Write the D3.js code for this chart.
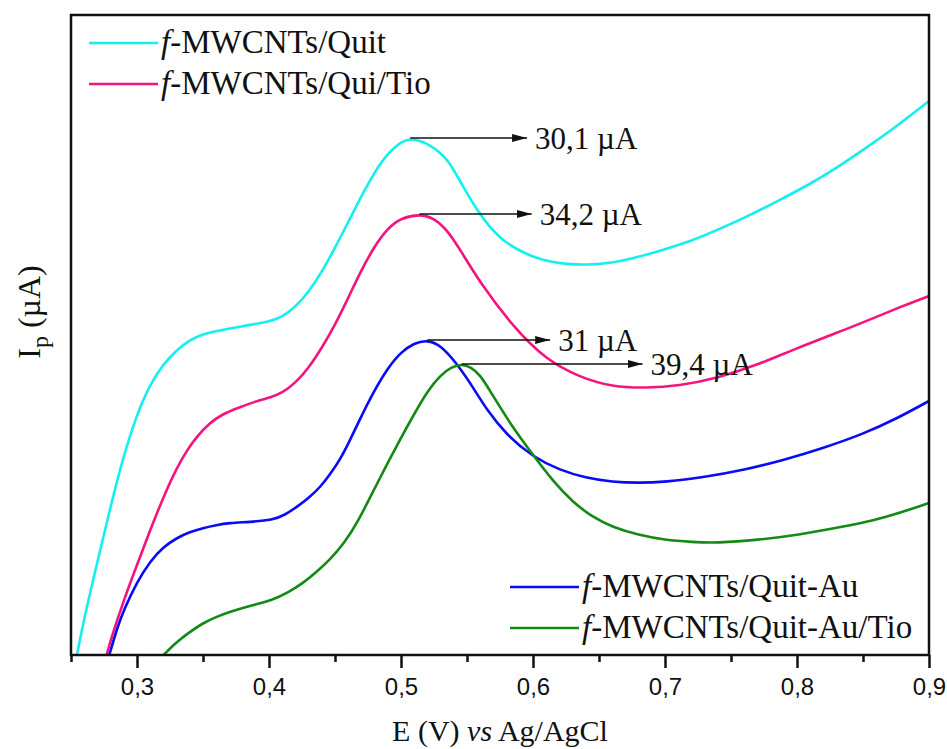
<!DOCTYPE html>
<html>
<head>
<meta charset="utf-8">
<script src="https://cdn.jsdelivr.net/npm/d3@7/dist/d3.min.js"></script>
<style>
  html, body { margin: 0; padding: 0; background: #fff; }
  svg { display: block; }
</style>
</head>
<body>
<svg id="chart" width="947" height="749"></svg>
<script>
// Differential pulse voltammograms: potential (V vs Ag/AgCl) and current (arbitrary offset, µA)
const potCyan = [0.2545,0.26,0.27,0.28,0.29,0.30,0.31,0.32,0.33,0.34,0.35,0.36,0.38,0.40,0.41,0.42,0.43,0.44,0.45,0.46,0.47,0.48,0.49,0.50,0.507,0.52,0.53,0.535,0.541,0.5485,0.5576,0.567,0.577,0.586,0.598,0.613,0.625,0.641,0.661,0.68,0.698,0.72,0.736,0.76,0.787,0.81,0.83,0.85,0.875,0.90];
const curCyan = [0,3.7,9.3,14.9,20.0,24.1,27.1,29.1,30.5,31.5,32.1,32.4,32.9,33.3,33.8,34.8,36.3,38.3,40.7,43.3,45.9,48.3,50.2,51.3,51.7,51.2,50.2,49.5,48.3,46.5,44.5,42.8,41.5,40.7,39.9,39.3,39.1,39.0,39.2,39.8,40.5,41.4,42.3,43.7,45.5,47.1,48.7,50.5,52.8,55.4];

const potPink = [0.277,0.28,0.29,0.30,0.31,0.32,0.33,0.338,0.345,0.355,0.365,0.376,0.393,0.40,0.41,0.42,0.43,0.44,0.45,0.46,0.47,0.48,0.49,0.50,0.514,0.525,0.535,0.545,0.56,0.585,0.61,0.635,0.66,0.686,0.71,0.74,0.77,0.80,0.83,0.86,0.88,0.90];
const curPink = [0,1.5,5.5,9.0,12.5,15.8,18.7,20.5,21.8,23.2,24.1,24.7,25.5,25.7,26.2,27.2,28.7,30.7,33.0,35.7,38.5,40.9,42.7,43.7,44.1,43.7,42.5,40.5,37.2,32.8,29.5,27.8,26.8,26.7,26.9,27.7,29.0,30.7,32.2,33.8,34.9,35.9];

const potBlue = [0.279,0.285,0.29,0.30,0.31,0.32,0.33,0.34,0.35,0.36,0.37,0.385,0.403,0.412,0.421,0.43,0.439,0.447,0.454,0.46,0.47,0.48,0.49,0.50,0.51,0.52,0.53,0.542,0.5545,0.565,0.58,0.60,0.62,0.64,0.66,0.68,0.70,0.73,0.76,0.79,0.82,0.85,0.875,0.90];
const curBlue = [0,2.7,4.5,7.3,9.4,10.8,11.7,12.3,12.7,13.0,13.2,13.3,13.5,14.0,14.8,15.7,16.8,18.2,19.6,21.1,23.9,26.5,28.7,30.3,31.2,31.5,31.0,29.2,26.8,24.5,22.0,19.8,18.5,17.7,17.3,17.2,17.3,17.8,18.5,19.5,20.7,22.1,23.6,25.4];

const potGreen = [0.32,0.33,0.34,0.35,0.36,0.37,0.385,0.403,0.415,0.426,0.436,0.446,0.457,0.467,0.482,0.499,0.51,0.52,0.53,0.538,0.546,0.553,0.56,0.567,0.575,0.585,0.60,0.615,0.63,0.645,0.66,0.68,0.70,0.72,0.74,0.77,0.80,0.83,0.86,0.88,0.90];
const curGreen = [0,1.3,2.3,3.2,3.8,4.3,4.9,5.5,6.3,7.2,8.3,9.5,11.2,13.2,17.2,21.5,24.1,26.4,28.0,28.8,29.1,28.8,28.0,26.5,24.8,22.7,20.0,17.4,15.3,13.8,12.8,12.0,11.5,11.3,11.2,11.5,12.0,12.7,13.5,14.3,15.2];

const seriesNames = ["MWCNTs/Quit", "MWCNTs/Qui/Tio", "MWCNTs/Quit-Au", "MWCNTs/Quit-Au/Tio"];
const seriesColors = ["#14f0f0", "#f5147d", "#0a0af5", "#138a13"];

// Peak currents reported for each electrode, with peak potentials
const peakPot = [0.507, 0.514, 0.52, 0.546];
const peakCurrent = [30.1, 34.2, 31, 39.4];
const arrowEndPot = [0.5955, 0.599, 0.613, 0.683];

const majorTicks = [0.3, 0.4, 0.5, 0.6, 0.7, 0.8, 0.9];
const minorTicks = [0.25, 0.35, 0.45, 0.55, 0.65, 0.75, 0.85];

const series = [
  {pot: potCyan, cur: curCyan},
  {pot: potPink, cur: curPink},
  {pot: potBlue, cur: curBlue},
  {pot: potGreen, cur: curGreen}
].map((s, i) => ({
  name: seriesNames[i],
  color: seriesColors[i],
  points: s.pot.map((p, j) => ({E: p, I: s.cur[j]}))
}));

const svg = d3.select("#chart");
const plotL = 71, plotR = 929, plotT = 15, plotB = 655;

const x = d3.scaleLinear().domain([0.25, 0.9]).range([plotL, plotR]);
const y = d3.scaleLinear().domain([0, 64]).range([plotB, plotT]);

const serif = "'Liberation Serif', 'Times New Roman', serif";
const sans = "'Liberation Sans', Arial, sans-serif";

const defs = svg.append("defs");
defs.append("clipPath").attr("id", "plot-clip")
  .append("rect").attr("x", plotL).attr("y", plotT)
  .attr("width", plotR - plotL).attr("height", plotB - plotT);

// Curves (B-spline through the sampled currents)
const line = d3.line().x(d => x(d.E)).y(d => y(d.I)).curve(d3.curveBasis);
const curves = svg.append("g").attr("clip-path", "url(#plot-clip)");
series.forEach(s => {
  curves.append("path")
    .datum(s.points)
    .attr("fill", "none")
    .attr("stroke", s.color)
    .attr("stroke-width", 2.6)
    .attr("stroke-linejoin", "round")
    .attr("d", line);
});

// Frame
svg.append("rect")
  .attr("x", plotL).attr("y", plotT)
  .attr("width", plotR - plotL).attr("height", plotB - plotT)
  .attr("fill", "none").attr("stroke", "#111").attr("stroke-width", 2.5);

// Bottom axis: major ticks with labels, minor ticks without
const fmt = v => d3.format(".1f")(v).replace(".", ",");
const axisMajor = svg.append("g").attr("transform", `translate(0,${plotB})`)
  .call(d3.axisBottom(x).tickValues(majorTicks).tickSize(13).tickPadding(10).tickFormat(fmt));
axisMajor.select(".domain").remove();
axisMajor.selectAll(".tick line").attr("stroke", "#111").attr("stroke-width", 2.5);
axisMajor.selectAll(".tick text")
  .attr("font-family", sans).attr("font-size", 24).attr("fill", "#111")
  .attr("dy", "0.71em");

const axisMinor = svg.append("g").attr("transform", `translate(0,${plotB})`)
  .call(d3.axisBottom(x).tickValues(minorTicks).tickSize(7).tickFormat(""));
axisMinor.select(".domain").remove();
axisMinor.selectAll(".tick line").attr("stroke", "#111").attr("stroke-width", 2.5);

// Axis titles
const xTitle = svg.append("text")
  .attr("x", (plotL + plotR) / 2).attr("y", 741)
  .attr("text-anchor", "middle")
  .attr("font-family", serif).attr("font-size", 30).attr("fill", "#111");
xTitle.append("tspan").text("E (V) ");
xTitle.append("tspan").attr("font-style", "italic").text("vs");
xTitle.append("tspan").text(" Ag/AgCl");

const yTitle = svg.append("text")
  .attr("transform", "translate(40,312) rotate(-90)")
  .attr("text-anchor", "middle")
  .attr("font-family", serif).attr("font-size", 32).attr("fill", "#111");
yTitle.append("tspan").text("I");
yTitle.append("tspan").attr("font-size", 24).attr("dy", 8).text("p");
yTitle.append("tspan").attr("dy", -8).text(" (\u00b5A)");

// Peak annotations: arrow from the peak to the right, with the current label
defs.append("marker")
  .attr("id", "arrowhead")
  .attr("viewBox", "0 0 15 8").attr("refX", 15).attr("refY", 4)
  .attr("markerWidth", 15).attr("markerHeight", 8)
  .attr("markerUnits", "userSpaceOnUse")
  .attr("orient", "auto")
  .append("path").attr("d", "M0,0 L15,4 L0,8 Z").attr("fill", "#111");

const peakFmt = v => (Number.isInteger(v) ? String(v) : d3.format(".1f")(v).replace(".", ",")) + " \u00b5A";
series.forEach((s, i) => {
  const pk = s.points.reduce((a, b) => (Math.abs(b.E - peakPot[i]) < Math.abs(a.E - peakPot[i]) ? b : a));
  const py = y(pk.I);
  svg.append("line")
    .attr("x1", x(pk.E)).attr("y1", py)
    .attr("x2", x(arrowEndPot[i])).attr("y2", py)
    .attr("stroke", "#111").attr("stroke-width", 1.3)
    .attr("marker-end", "url(#arrowhead)");
  svg.append("text")
    .attr("x", x(arrowEndPot[i]) + 8).attr("y", py + 11)
    .attr("font-family", serif).attr("font-size", 31).attr("fill", "#111")
    .text(peakFmt(peakCurrent[i]));
});

// Legends
function legendItem(g, s, lx, ly) {
  g.append("line")
    .attr("x1", lx).attr("x2", lx + 69).attr("y1", ly).attr("y2", ly)
    .attr("stroke", s.color).attr("stroke-width", 2.6);
  const t = g.append("text")
    .attr("x", lx + 72).attr("y", ly + 10)
    .attr("font-family", serif).attr("font-size", 33).attr("fill", "#111");
  t.append("tspan").attr("font-style", "italic").text("f");
  t.append("tspan").text("-" + s.name);
}
const legTop = svg.append("g");
legendItem(legTop, series[0], 89, 43);
legendItem(legTop, series[1], 89, 84);
const legBottom = svg.append("g");
legendItem(legBottom, series[2], 510, 587);
legendItem(legBottom, series[3], 510, 628);
</script>
</body>
</html>
